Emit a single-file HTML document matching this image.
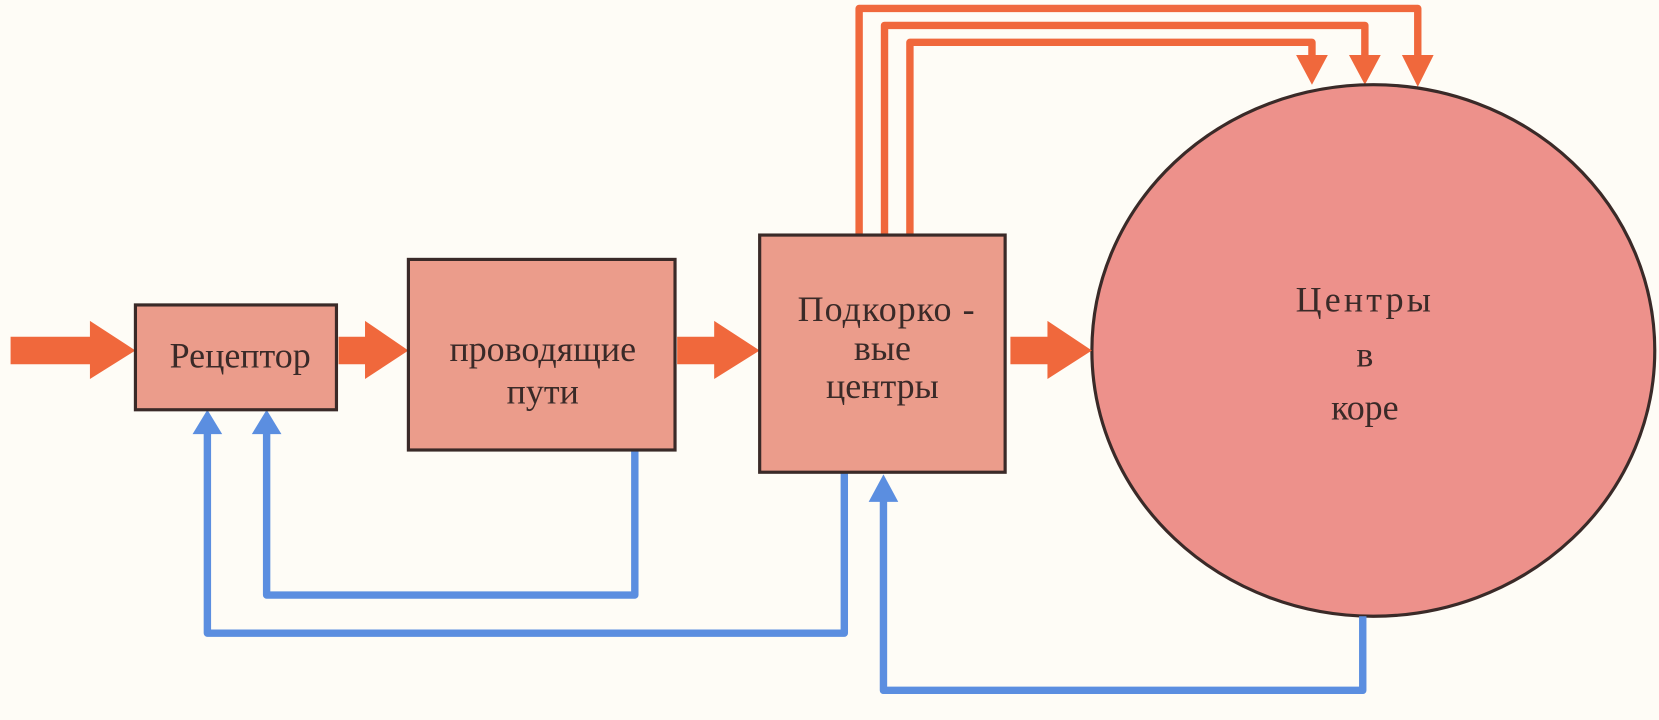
<!DOCTYPE html>
<html><head><meta charset="utf-8"><style>
html,body{margin:0;padding:0;background:#fefcf6;}
svg{display:block}
text{font-family:"Liberation Serif",serif;fill:#3a2a28;font-size:34px;text-anchor:middle}
</style></head><body>
<svg width="1659" height="720" viewBox="0 0 1568 680" preserveAspectRatio="none" xmlns="http://www.w3.org/2000/svg">
<!-- orange top lines -->
<g fill="none" stroke="#f0683c" stroke-width="7" stroke-linejoin="round">
<polyline points="812,222 812,8 1340,8 1340,56"/>
<polyline points="836,222 836,24 1290,24 1290,56"/>
<polyline points="860,222 860,40 1240,40 1240,56"/>
</g>
<g fill="#f0683c">
<polygon points="1325,52 1355,52 1340,82"/>
<polygon points="1275,52 1305,52 1290,80"/>
<polygon points="1225,52 1255,52 1240,80"/>
</g>
<ellipse cx="1298" cy="331" rx="266" ry="251" fill="#ed918b" stroke="#3a2a28" stroke-width="3"/>
<g fill="none" stroke="#5b8ee0" stroke-width="7" stroke-linejoin="round">
<polyline points="196,405 196,598 798,598 798,446"/>
<polyline points="252,405 252,562 600,562 600,425"/>
<polyline points="835,470 835,652 1288,652 1288,582"/>
</g>
<g fill="#5b8ee0">
<polygon points="182,410 210,410 196,387"/>
<polygon points="238,410 266,410 252,387"/>
<polygon points="821,474 849,474 835,448"/>
</g>
<g fill="#f0683c">
<polygon points="10,318 85,318 85,303 128,331 85,358 85,344 10,344"/>
<polygon points="320,318 345,318 345,303 386,331 345,358 345,344 320,344"/>
<polygon points="640,318 675,318 675,303 718,331 675,358 675,344 640,344"/>
<polygon points="955,318 990,318 990,303 1032,331 990,358 990,344 955,344"/>
</g>
<rect x="128" y="288" width="190" height="99" fill="#eb9c8b" stroke="#3a2a28" stroke-width="3"/>
<rect x="386" y="245" width="252" height="180" fill="#eb9c8b" stroke="#3a2a28" stroke-width="3"/>
<rect x="718" y="222" width="232" height="224" fill="#eb9c8b" stroke="#3a2a28" stroke-width="3"/>
<text x="227" y="347">Рецептор</text>
<text x="513" y="341">проводящие</text>
<text x="513" y="381">пути</text>
<text x="838" y="303" letter-spacing="1">Подкорко -</text>
<text x="834" y="340">вые</text>
<text x="834" y="376">центры</text>
<text x="1290" y="294" letter-spacing="3">Центры</text>
<text x="1290" y="346">в</text>
<text x="1290" y="396">коре</text>
</svg>
</body></html>
